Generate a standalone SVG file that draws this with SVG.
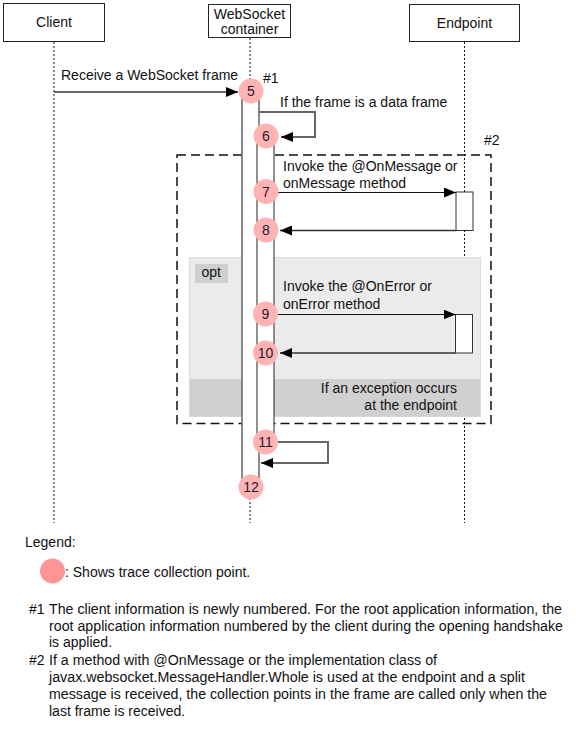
<svg xmlns="http://www.w3.org/2000/svg" width="576" height="729" viewBox="0 0 576 729">
<style>
text{font-family:"Liberation Sans",Arial,sans-serif;font-size:14px;fill:#111}
.box{fill:#fff;stroke:#222;stroke-width:1}
.life{stroke:#111;stroke-width:1;stroke-dasharray:2 2;fill:none}
.pt{fill:#ffb3b3}
.num{text-anchor:middle;fill:#1a1a33}
.msg{stroke:#111;stroke-width:1;fill:none}
.ret{stroke:#333;stroke-width:1.5;fill:none}
.self{stroke:#666;stroke-width:2;fill:none}
.act{fill:#fff;stroke:#333;stroke-width:1}
</style>
<defs>
<marker id="ah" markerUnits="userSpaceOnUse" markerWidth="13" markerHeight="10" refX="12" refY="5" orient="auto">
<path d="M0,0 L12,5 L0,10 z" fill="#000"/>
</marker>
</defs>
<rect width="576" height="729" fill="#fff"/>

<g id="client">
<rect class="box" x="3.5" y="3.5" width="101" height="38"/>
<text x="54" y="27" text-anchor="middle">Client</text>
<line class="life" x1="54" y1="42" x2="54" y2="523"/>
</g>
<g id="websocket-container">
<rect class="box" x="208.5" y="4.5" width="82" height="33"/>
<text x="249.5" y="19" text-anchor="middle">WebSocket</text>
<text x="249.5" y="34" text-anchor="middle">container</text>
<line class="life" x1="250" y1="38" x2="250" y2="523"/>
</g>
<g id="endpoint">
<rect class="box" x="409.5" y="4.5" width="110" height="37"/>
<text x="464.5" y="28" text-anchor="middle">Endpoint</text>
<line class="life" x1="464.5" y1="42" x2="464.5" y2="523"/>
</g>

<g id="frame-2">
<rect x="177" y="155" width="314" height="268.5" fill="none" stroke="#111" stroke-width="1.5" stroke-dasharray="9 5"/>
<text x="484" y="145">#2</text>
</g>
<g id="opt">
<rect x="189.5" y="257.5" width="291" height="159" fill="#ebebeb" stroke="#dcdcdc" stroke-width="1"/>
<rect x="190" y="379" width="290" height="37.5" fill="#d0d0d0"/>
<rect x="195" y="264" width="33" height="19" fill="#cfcfcf"/>
<text x="201.5" y="277">opt</text>
<text x="457" y="393" text-anchor="end">If an exception occurs</text>
<text x="457" y="410" text-anchor="end">at the endpoint</text>
</g>

<g id="activations">
<rect x="242" y="92" width="17" height="395" fill="#fff" stroke="#666" stroke-width="1.5"/>
<rect x="257" y="136" width="17" height="306" fill="#fff" stroke="#222" stroke-width="1"/>
<rect class="act" x="456" y="192" width="17" height="38.5"/>
<rect class="act" x="455.5" y="314.5" width="17" height="38.5"/>
</g>

<g id="connectors">
<line class="ret" x1="54" y1="92" x2="238" y2="92" marker-end="url(#ah)"/>
<path class="self" d="M259,112 H315 V137 H281" marker-end="url(#ah)"/>
<line class="msg" x1="278" y1="192.5" x2="456" y2="192.5" marker-end="url(#ah)"/>
<line class="ret" x1="456" y1="230.5" x2="280" y2="230.5" marker-end="url(#ah)"/>
<line class="msg" x1="278" y1="314.5" x2="455.5" y2="314.5" marker-end="url(#ah)"/>
<line class="ret" x1="455.5" y1="353" x2="280" y2="353" marker-end="url(#ah)"/>
<path class="self" d="M278,442 H328 V463 H261" marker-end="url(#ah)"/>
</g>

<g id="labels">
<text x="61" y="80">Receive a WebSocket frame</text>
<text x="263" y="83">#1</text>
<text x="280" y="107">If the frame is a data frame</text>
<text x="283" y="171">Invoke the @OnMessage or</text>
<text x="283" y="188">onMessage method</text>
<text x="283" y="291">Invoke the @OnError or</text>
<text x="283" y="309">onError method</text>
</g>

<g id="trace-points">
<circle class="pt" cx="251" cy="91" r="12.5"/><text class="num" x="251" y="96">5</text>
<circle class="pt" cx="266" cy="136" r="12.5"/><text class="num" x="266" y="141">6</text>
<circle class="pt" cx="266" cy="191.5" r="12.5"/><text class="num" x="266" y="196.5">7</text>
<circle class="pt" cx="266" cy="230" r="12.5"/><text class="num" x="266" y="235">8</text>
<circle class="pt" cx="265.5" cy="314" r="12.5"/><text class="num" x="265.5" y="319">9</text>
<circle class="pt" cx="265.5" cy="353" r="12.5"/><text class="num" x="265.5" y="358">10</text>
<circle class="pt" cx="265.5" cy="442" r="12.5"/><text class="num" x="265.5" y="447">11</text>
<circle class="pt" cx="251" cy="487" r="12.5"/><text class="num" x="251" y="492">12</text>
</g>

<g id="legend">
<text x="25" y="547">Legend:</text>
<circle cx="52.5" cy="571" r="12.5" fill="#ff9494"/>
<text x="65" y="577">: Shows trace collection point.</text>
</g>

<g id="notes">
<text x="29" y="614">#1</text>
<text x="49" y="614" textLength="513" lengthAdjust="spacingAndGlyphs">The client information is newly numbered. For the root application information, the</text>
<text x="49" y="631" textLength="514" lengthAdjust="spacingAndGlyphs">root application information numbered by the client during the opening handshake</text>
<text x="49" y="647">is applied.</text>
<text x="29" y="665">#2</text>
<text x="49" y="665" textLength="388" lengthAdjust="spacingAndGlyphs">If a method with @OnMessage or the implementation class of</text>
<text x="49" y="682" textLength="476" lengthAdjust="spacingAndGlyphs">javax.websocket.MessageHandler.Whole is used at the endpoint and a split</text>
<text x="49" y="699" textLength="498" lengthAdjust="spacingAndGlyphs">message is received, the collection points in the frame are called only when the</text>
<text x="49" y="716">last frame is received.</text>
</g>
</svg>
